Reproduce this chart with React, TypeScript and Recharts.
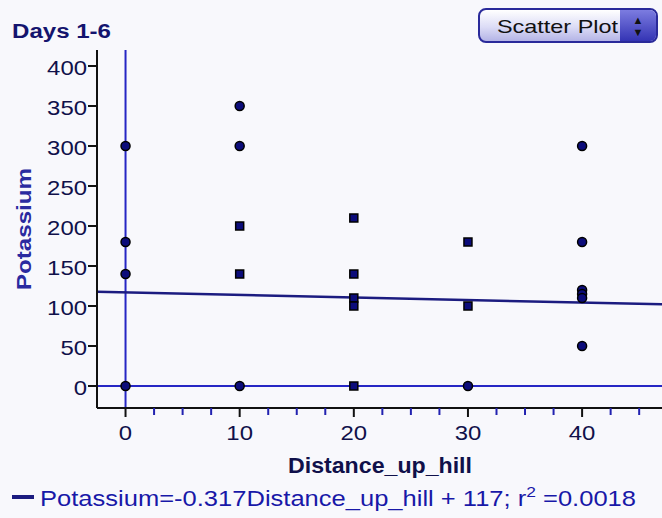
import { ReferenceLine, Scatter, ScatterChart, XAxis, YAxis, ZAxis } from 'recharts';

// points drawn as round markers
const circleX = [0, 0, 0, 0, 10, 10, 10, 30, 40, 40, 40, 40, 40, 40];
const circleY = [300, 180, 140, 0, 350, 300, 0, 0, 300, 180, 120, 115, 110, 50];
// points drawn as square markers
const squareX = [10, 10, 20, 20, 20, 20, 20, 30, 30];
const squareY = [200, 140, 210, 140, 110, 100, 0, 180, 100];

const xTicks = [0, 2.5, 5, 7.5, 10, 12.5, 15, 17.5, 20, 22.5, 25, 27.5, 30, 32.5, 35, 37.5, 40, 42.5, 45];
const yTicks = [0, 50, 100, 150, 200, 250, 300, 350, 400];
const xDomain: [number, number] = [-2.5, 47];
const yDomain: [number, number] = [-27.5, 420];

const slope = -0.317;
const intercept = 117;

const circles = circleX.map((x, i) => ({ x, y: circleY[i] }));
const squares = squareX.map((x, i) => ({ x, y: squareY[i] }));

const FONT = '"Liberation Sans", Arial, sans-serif';
const NAVY = '#0c0c7a';
const DIGIT_W = 13.3; // the source renders text stretched wide

function XTick(props: any) {
  const { x, y, payload } = props;
  const major = payload.value % 10 === 0;
  const label = String(payload.value);
  return (
    <g>
      <line x1={x} x2={x} y1={y} y2={y + (major ? 9 : 7)} stroke={major ? '#111' : '#2222b0'} strokeWidth={2} />
      {major && (
        <text
          x={x}
          y={y + 32}
          textAnchor="middle"
          fontSize={21}
          fontFamily={FONT}
          fill="#10104a"
          textLength={label.length * DIGIT_W}
          lengthAdjust="spacingAndGlyphs"
        >
          {label}
        </text>
      )}
    </g>
  );
}

function YTick(props: any) {
  const { x, y, payload } = props;
  const label = String(payload.value);
  return (
    <g>
      <line x1={x + 1} x2={x + 10} y1={y} y2={y} stroke="#111" strokeWidth={2} />
      <text
        x={x}
        y={y + 9}
        textAnchor="end"
        fontSize={21}
        fontFamily={FONT}
        fill="#10104a"
        textLength={label.length * DIGIT_W}
        lengthAdjust="spacingAndGlyphs"
      >
        {label}
      </text>
    </g>
  );
}

export default function App() {
  const regLine = [
    { x: xDomain[0], y: intercept + slope * xDomain[0] },
    { x: xDomain[1], y: intercept + slope * xDomain[1] }
  ];
  return (
    <div style={{ position: 'absolute', left: 0, top: 0, width: 662, height: 518, background: '#f8f8fc', fontFamily: FONT }}>
      <ScatterChart width={662} height={518} margin={{ top: 50, right: 0, bottom: 70, left: 0 }}>
        <XAxis
          type="number"
          dataKey="x"
          domain={xDomain}
          ticks={xTicks}
          interval={0}
          allowDataOverflow
          height={40}
          tickSize={0}
          tickMargin={0}
          tickLine={false}
          axisLine={{ stroke: '#111', strokeWidth: 2 }}
          tick={<XTick />}
        />
        <YAxis
          type="number"
          dataKey="y"
          domain={yDomain}
          ticks={yTicks}
          interval={0}
          allowDataOverflow
          width={97}
          tickSize={10}
          tickMargin={0}
          tickLine={false}
          axisLine={{ stroke: '#111', strokeWidth: 2 }}
          tick={<YTick />}
        />
        <ZAxis range={[64, 64]} />
        <ReferenceLine x={0} stroke="#2626c4" strokeWidth={2} />
        <ReferenceLine y={0} stroke="#2626c4" strokeWidth={2} />
        <ReferenceLine segment={regLine} stroke="#1c1c80" strokeWidth={2.5} ifOverflow="extendDomain" />
        <Scatter data={circles} shape="circle" fill={NAVY} stroke="#000" strokeWidth={1.5} isAnimationActive={false} />
        <Scatter data={squares} shape="square" fill={NAVY} stroke="#000" strokeWidth={1.5} isAnimationActive={false} />
      </ScatterChart>

      <div
        style={{
          position: 'absolute',
          left: 478,
          top: 8,
          width: 180,
          height: 35,
          borderRadius: 8,
          border: '2px solid #2a2a9a',
          background: 'linear-gradient(#ffffff, #dcdcf6 55%, #b4b4e6)',
          overflow: 'hidden',
          boxSizing: 'border-box'
        }}
      >
        <div
          style={{
            position: 'absolute',
            right: 0,
            top: 0,
            width: 36,
            height: '100%',
            background: 'linear-gradient(#7c7ce0, #3434b4)',
            color: '#111',
            fontSize: 11,
            lineHeight: '12px',
            textAlign: 'center',
            paddingTop: 4,
            boxSizing: 'border-box'
          }}
        >
          ▲<br />▼
        </div>
      </div>

      <svg width={662} height={518} style={{ position: 'absolute', left: 0, top: 0, pointerEvents: 'none' }} fontFamily={FONT}>
        <text x={12} y={38} fontSize={20} fontWeight="bold" fill="#14146e" textLength={99} lengthAdjust="spacingAndGlyphs">
          Days 1-6
        </text>
        <text x={497} y={33} fontSize={19} fill="#111" textLength={121} lengthAdjust="spacingAndGlyphs">
          Scatter Plot
        </text>
        <text
          transform="translate(31, 229) rotate(-90)"
          textAnchor="middle"
          fontSize={20}
          fontWeight="bold"
          fill="#2a2aa0"
          textLength={122}
          lengthAdjust="spacingAndGlyphs"
        >
          Potassium
        </text>
        <text x={288} y={473} fontSize={22} fontWeight="bold" fill="#10104a" textLength={184} lengthAdjust="spacingAndGlyphs">
          Distance_up_hill
        </text>
        <line x1={12} x2={34} y1={497} y2={497} stroke="#1c1c80" strokeWidth={4} />
        <text x={40} y={506} fontSize={22} fill="#1818a8" textLength={596} lengthAdjust="spacingAndGlyphs">
          Potassium=-0.317Distance_up_hill + 117; r<tspan dy={-9} fontSize={15}>2</tspan>
          <tspan dy={9}> =0.0018</tspan>
        </text>
      </svg>
    </div>
  );
}
